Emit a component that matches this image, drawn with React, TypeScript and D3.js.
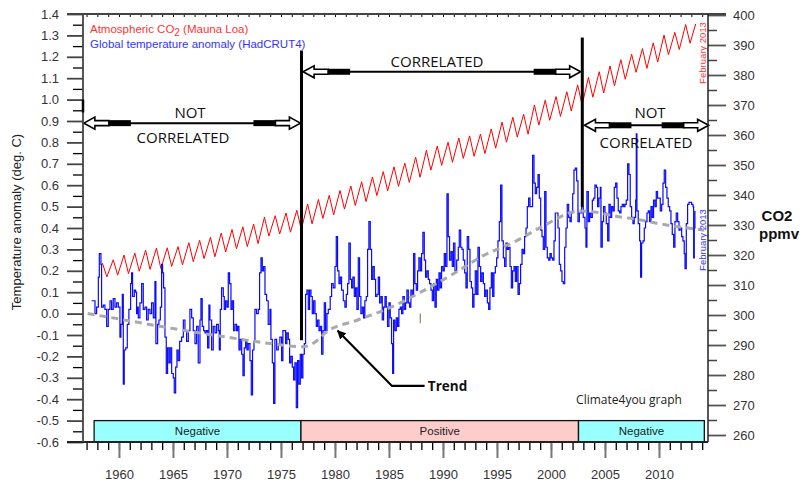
import { useEffect, useRef } from "react";
import * as d3 from "d3";

const W = 803;
const H = 486;

const TEMP_TICKS = [-0.6, -0.5, -0.4, -0.3, -0.2, -0.1, 0.0, 0.1, 0.2, 0.3, 0.4, 0.5, 0.6, 0.7, 0.8, 0.9, 1.0, 1.1, 1.2, 1.3, 1.4];
const CO2_TICKS = [260, 270, 280, 290, 300, 310, 320, 330, 340, 350, 360, 370, 380, 390, 400];
const YEAR_LABELS = [1960, 1965, 1970, 1975, 1980, 1985, 1990, 1995, 2000, 2005, 2010];

// Mauna Loa CO2, seasonal maximum and minimum of each year (ppmv)
const CO2_YEARS = [
  1958, 1959, 1960, 1961, 1962, 1963, 1964, 1965, 1966, 1967, 1968, 1969, 1970, 1971, 1972, 1973, 1974, 1975, 1976,
  1977, 1978, 1979, 1980, 1981, 1982, 1983, 1984, 1985, 1986, 1987, 1988, 1989, 1990, 1991, 1992, 1993, 1994, 1995,
  1996, 1997, 1998, 1999, 2000, 2001, 2002, 2003, 2004, 2005, 2006, 2007, 2008, 2009, 2010, 2011, 2012,
];
const CO2_PEAK = [
  317.3, 318.4, 320.0, 320.6, 321.6, 322.3, 322.4, 322.8, 324.1, 324.9, 325.9, 327.3, 328.5, 329.4, 330.3, 332.6, 333.1,
  334.0, 334.9, 337.0, 338.5, 339.9, 341.5, 343.0, 344.4, 346.0, 347.8, 349.4, 350.6, 352.6, 354.9, 356.3, 357.6, 359.0,
  359.7, 360.3, 362.0, 364.3, 365.9, 366.9, 370.0, 371.6, 372.8, 374.4, 376.7, 379.2, 381.1, 383.0, 385.1, 386.9, 388.8,
  390.7, 393.3, 394.2, 396.8,
];
const CO2_TROUGH = [
  312.7, 313.3, 313.8, 314.6, 315.2, 315.5, 316.2, 316.7, 317.8, 318.8, 319.4, 321.0, 322.1, 322.8, 323.8, 326.3, 327.0,
  327.6, 328.5, 330.4, 332.2, 333.4, 335.3, 336.5, 337.8, 339.8, 341.4, 342.9, 344.2, 345.9, 348.3, 349.9, 350.9, 352.2,
  352.9, 353.8, 355.6, 357.6, 359.3, 360.3, 363.3, 364.9, 366.2, 368.0, 370.0, 372.6, 374.0, 376.4, 378.6, 380.9, 382.2,
  384.3, 386.8, 388.5, 390.6,
];
const CO2_LAST: [number, number] = [2013.4, 397.0];

// HadCRUT4 global temperature anomaly [year, deg C]
const TEMP: [number, number][] = [
  [1957.47,0.06],[1957.62,0.06],[1957.78,0.00],[1957.93,0.03],[1958.09,0.17],[1958.18,0.28],[1958.33,0.23],[1958.39,0.03],
  [1958.55,0.04],[1958.70,0.02],[1958.86,-0.06],[1959.01,0.02],[1959.17,0.06],[1959.32,0.02],[1959.47,0.07],[1959.63,0.03],
  [1959.78,0.05],[1959.94,0.03],[1960.09,-0.11],[1960.18,-0.05],[1960.31,0.09],[1960.40,-0.33],[1960.49,-0.17],[1960.62,-0.16],
  [1960.77,-0.05],[1960.92,0.02],[1961.08,0.14],[1961.17,0.19],[1961.26,0.08],[1961.42,0.11],[1961.54,0.10],[1961.63,0.00],
  [1961.73,0.03],[1961.79,-0.02],[1961.94,0.05],[1962.10,0.14],[1962.25,0.02],[1962.41,0.03],[1962.56,-0.03],[1962.71,0.02],
  [1962.87,0.00],[1963.02,0.05],[1963.18,-0.02],[1963.33,0.15],[1963.42,-0.14],[1963.58,-0.05],[1963.70,-0.03],[1963.83,0.03],
  [1963.95,0.23],[1964.04,0.19],[1964.13,0.12],[1964.26,-0.11],[1964.38,-0.28],[1964.50,-0.16],[1964.63,-0.23],[1964.75,-0.16],
  [1964.88,-0.28],[1965.03,-0.30],[1965.12,-0.37],[1965.25,-0.25],[1965.37,-0.17],[1965.49,-0.22],[1965.62,-0.13],[1965.80,-0.11],
  [1965.96,-0.03],[1966.11,-0.08],[1966.26,-0.13],[1966.42,-0.08],[1966.57,0.02],[1966.73,-0.02],[1966.88,-0.08],[1967.04,-0.14],
  [1967.19,-0.06],[1967.34,-0.23],[1967.50,-0.03],[1967.59,0.07],[1967.71,-0.06],[1967.84,-0.08],[1967.96,-0.09],[1968.09,-0.08],
  [1968.21,-0.16],[1968.33,0.04],[1968.42,-0.03],[1968.58,-0.17],[1968.73,-0.06],[1968.89,-0.09],[1969.04,-0.05],[1969.20,-0.08],
  [1969.29,-0.17],[1969.38,0.02],[1969.50,0.12],[1969.66,0.08],[1969.75,0.02],[1969.87,0.06],[1970.00,0.03],[1970.12,0.19],
  [1970.24,0.14],[1970.37,0.02],[1970.49,0.06],[1970.61,-0.08],[1970.74,-0.05],[1970.89,-0.08],[1970.99,-0.06],[1971.11,-0.17],
  [1971.23,-0.12],[1971.36,-0.19],[1971.48,-0.29],[1971.60,-0.16],[1971.73,-0.13],[1971.85,-0.17],[1971.97,-0.14],[1972.13,-0.22],
  [1972.25,-0.38],[1972.37,-0.17],[1972.50,-0.13],[1972.59,0.02],[1972.74,0.00],[1972.90,0.02],[1973.02,0.19],[1973.15,0.26],
  [1973.27,0.20],[1973.39,0.22],[1973.52,0.09],[1973.67,0.06],[1973.82,-0.05],[1973.98,0.02],[1974.07,-0.12],[1974.20,-0.23],
  [1974.32,-0.42],[1974.44,-0.12],[1974.60,-0.17],[1974.75,-0.14],[1974.90,-0.11],[1975.06,-0.22],[1975.18,-0.08],[1975.31,-0.08],
  [1975.43,-0.14],[1975.55,-0.09],[1975.68,-0.12],[1975.80,-0.23],[1975.92,-0.20],[1976.05,-0.25],[1976.17,-0.31],[1976.29,-0.23],
  [1976.42,-0.44],[1976.54,-0.22],[1976.66,-0.33],[1976.79,-0.19],[1976.91,-0.30],[1977.03,-0.19],[1977.16,-0.14],[1977.28,0.09],
  [1977.40,0.11],[1977.53,0.02],[1977.65,0.11],[1977.78,0.08],[1977.90,0.00],[1978.02,0.06],[1978.15,0.00],[1978.27,-0.06],
  [1978.39,-0.03],[1978.52,-0.08],[1978.64,-0.06],[1978.76,-0.19],[1978.89,-0.08],[1979.01,0.05],[1979.13,-0.08],[1979.26,0.00],
  [1979.38,0.02],[1979.56,0.08],[1979.69,0.14],[1979.84,0.12],[1980.00,0.22],[1980.12,0.36],[1980.24,0.20],[1980.37,0.14],
  [1980.49,0.17],[1980.61,0.11],[1980.77,0.06],[1980.92,0.03],[1981.05,0.09],[1981.17,0.14],[1981.29,0.33],[1981.42,0.16],
  [1981.54,0.12],[1981.66,0.17],[1981.79,0.08],[1981.91,0.12],[1982.03,0.02],[1982.16,0.26],[1982.28,0.08],[1982.40,0.00],
  [1982.53,0.03],[1982.65,-0.02],[1982.77,0.06],[1982.90,0.08],[1983.02,0.30],[1983.14,0.43],[1983.27,0.30],[1983.39,0.16],
  [1983.51,0.22],[1983.64,0.16],[1983.76,0.08],[1983.89,0.09],[1984.01,0.17],[1984.13,0.05],[1984.26,0.08],[1984.38,-0.03],
  [1984.50,0.03],[1984.63,0.08],[1984.75,0.03],[1984.87,-0.06],[1985.00,0.05],[1985.12,-0.02],[1985.24,-0.14],[1985.34,-0.28],
  [1985.43,-0.03],[1985.55,-0.08],[1985.68,-0.02],[1985.80,-0.06],[1985.92,0.02],[1986.05,0.03],[1986.17,0.00],[1986.29,0.08],
  [1986.42,0.02],[1986.54,0.05],[1986.66,0.11],[1986.79,0.05],[1986.91,0.03],[1987.03,0.11],[1987.16,0.08],[1987.28,0.28],
  [1987.40,0.14],[1987.53,0.11],[1987.65,0.20],[1987.77,0.26],[1987.90,0.20],[1988.02,0.28],[1988.14,0.38],[1988.27,0.25],
  [1988.39,0.17],[1988.51,0.20],[1988.64,0.16],[1988.76,0.14],[1988.89,0.11],[1989.01,0.06],[1989.13,0.14],[1989.26,0.03],
  [1989.38,0.16],[1989.50,0.11],[1989.63,0.19],[1989.75,0.12],[1989.87,0.22],[1990.00,0.20],[1990.12,0.28],[1990.24,0.22],
  [1990.37,0.56],[1990.49,0.36],[1990.61,0.25],[1990.74,0.29],[1990.86,0.22],[1990.98,0.33],[1991.11,0.20],[1991.27,0.25],
  [1991.42,0.31],[1991.51,0.39],[1991.64,0.31],[1991.76,0.30],[1991.88,0.25],[1992.01,0.19],[1992.13,0.12],[1992.25,0.36],
  [1992.38,0.30],[1992.50,0.15],[1992.63,0.12],[1992.75,0.03],[1992.87,0.09],[1992.99,0.20],[1993.12,0.09],[1993.24,0.31],
  [1993.37,0.22],[1993.49,0.15],[1993.61,0.19],[1993.74,0.14],[1993.86,0.08],[1993.98,0.11],[1994.11,0.05],[1994.23,0.02],
  [1994.35,0.12],[1994.48,0.19],[1994.60,0.08],[1994.72,0.19],[1994.85,0.22],[1994.97,0.26],[1995.09,0.34],[1995.22,0.43],
  [1995.34,0.60],[1995.46,0.34],[1995.59,0.26],[1995.71,0.22],[1995.84,0.33],[1995.96,0.30],[1996.08,0.31],[1996.21,0.22],
  [1996.33,0.12],[1996.45,0.20],[1996.58,0.22],[1996.70,0.15],[1996.82,0.22],[1996.95,0.09],[1997.07,0.14],[1997.19,0.23],
  [1997.32,0.30],[1997.44,0.28],[1997.56,0.36],[1997.69,0.40],[1997.81,0.50],[1997.93,0.54],[1998.06,0.50],[1998.18,0.50],
  [1998.30,0.74],[1998.43,0.61],[1998.55,0.56],[1998.67,0.59],[1998.80,0.65],[1998.92,0.54],[1999.05,0.39],[1999.17,0.36],
  [1999.29,0.30],[1999.42,0.57],[1999.54,0.31],[1999.66,0.26],[1999.79,0.25],[1999.91,0.28],[2000.03,0.26],[2000.16,0.25],
  [2000.28,0.34],[2000.40,0.47],[2000.53,0.47],[2000.65,0.40],[2000.77,0.23],[2000.90,0.20],[2001.02,0.15],[2001.14,0.14],
  [2001.27,0.31],[2001.39,0.40],[2001.51,0.51],[2001.64,0.45],[2001.76,0.43],[2001.88,0.47],[2002.01,0.56],[2002.13,0.67],
  [2002.25,0.68],[2002.38,0.62],[2002.50,0.43],[2002.63,0.47],[2002.84,0.50],[2002.99,0.45],[2003.15,0.40],[2003.24,0.31],
  [2003.33,0.57],[2003.46,0.43],[2003.58,0.47],[2003.70,0.45],[2003.83,0.53],[2003.95,0.54],[2004.07,0.60],[2004.20,0.59],
  [2004.32,0.50],[2004.44,0.54],[2004.57,0.59],[2004.63,0.31],[2004.75,0.43],[2004.87,0.50],[2005.00,0.47],[2005.12,0.42],
  [2005.25,0.34],[2005.37,0.51],[2005.49,0.45],[2005.62,0.50],[2005.74,0.48],[2005.86,0.59],[2005.99,0.61],[2006.11,0.54],
  [2006.23,0.48],[2006.36,0.47],[2006.48,0.50],[2006.60,0.51],[2006.73,0.50],[2006.85,0.51],[2006.97,0.53],[2007.10,0.70],
  [2007.22,0.65],[2007.34,0.50],[2007.47,0.45],[2007.59,0.42],[2007.71,0.45],[2007.84,0.53],[2007.90,0.84],[2007.96,0.48],
  [2008.08,0.42],[2008.21,0.34],[2008.30,0.17],[2008.39,0.33],[2008.52,0.34],[2008.64,0.40],[2008.76,0.43],[2008.89,0.47],
  [2009.01,0.48],[2009.13,0.43],[2009.26,0.50],[2009.38,0.45],[2009.50,0.53],[2009.63,0.50],[2009.75,0.57],[2009.87,0.54],
  [2010.00,0.54],[2010.12,0.48],[2010.25,0.51],[2010.37,0.61],[2010.49,0.67],[2010.62,0.59],[2010.74,0.54],[2010.86,0.50],
  [2010.99,0.48],[2011.11,0.42],[2011.23,0.37],[2011.36,0.31],[2011.48,0.43],[2011.60,0.47],[2011.73,0.43],[2011.85,0.39],
  [2011.97,0.40],[2012.10,0.36],[2012.22,0.34],[2012.34,0.28],[2012.41,0.21],[2012.53,0.42],[2012.65,0.51],[2012.78,0.52],
  [2012.90,0.52],[2013.02,0.51],[2013.15,0.50],[2013.21,0.26],[2013.27,0.40],[2013.33,0.48],
];

// smoothed temperature trend [year, deg C]
const TREND: [number, number][] = [
  [1957.1, 0.0], [1960, -0.025], [1965, -0.07], [1970, -0.11], [1974, -0.14], [1977, -0.155], [1978.5, -0.12],
  [1979.1, -0.09], [1982.1, -0.03], [1985.2, 0.03], [1988.3, 0.11], [1991.1, 0.19], [1993.7, 0.27], [1996.8, 0.34],
  [1999.3, 0.41], [2002.7, 0.48], [2004, 0.475], [2006, 0.455], [2008, 0.44], [2010, 0.42], [2014.2, 0.39],
];

// correlation periods [label, from, to]
const PERIODS: [string, number, number][] = [
  ["Negative", 1957.7, 1976.85],
  ["Positive", 1976.85, 2002.55],
  ["Negative", 2002.55, 2014.2],
];
const PERIOD_FILL: Record<string, string> = { Negative: "#99ffff", Positive: "#ffcccc" };

// vertical dividers [year, from, to] in deg C
const DIVIDERS: [number, number, number][] = [[1976.9, -0.125, 1.23], [2002.9, 0.5, 1.29]];
// double arrows [from, to, level]
const ARROWS: [number, number, number][] = [[1956.75, 1976.8, 0.89], [1977.05, 2002.75, 1.13], [2003.1, 2014.6, 0.88]];

const ARIAL = "'Liberation Sans', Arial, sans-serif";
const SOFT = "'Open Sans', 'DejaVu Sans', sans-serif";

export default function App() {
  const svgRef = useRef<SVGSVGElement>(null);

  useEffect(() => {
    const svg = d3.select(svgRef.current);
    svg.selectAll("*").remove();

    const x = d3.scaleLinear().domain([1956.67, 2014.54]).range([83, 708]);
    const yT = d3.scaleLinear().domain([-0.6, 1.4]).range([442, 14]);
    const yC = d3.scaleLinear().domain([257.67, 400.33]).range([442, 14]);

    svg.append("rect").attr("width", W).attr("height", H).attr("fill", "#fff");
    const g = svg.append("g");

    // period bars
    PERIODS.forEach(([lab, a, b]) => {
      g.append("rect")
        .attr("x", x(a)).attr("y", yT(-0.5))
        .attr("width", x(b) - x(a)).attr("height", yT(-0.6) - yT(-0.5))
        .attr("fill", PERIOD_FILL[lab]).attr("stroke", "#111").attr("stroke-width", 1.3);
      g.append("text")
        .attr("x", (x(a) + x(b)) / 2).attr("y", yT(-0.55) + 4)
        .attr("text-anchor", "middle").attr("font-family", ARIAL).attr("font-size", 11.5)
        .attr("fill", "#222").text(lab);
    });

    // CO2
    const co2: [number, number][] = [];
    CO2_YEARS.forEach((yr, i) => {
      co2.push([yr + 0.47, CO2_PEAK[i]]);
      co2.push([yr + 0.88, CO2_TROUGH[i]]);
    });
    co2.push(CO2_LAST);
    g.append("path").datum(co2)
      .attr("fill", "none").attr("stroke", "#ff0000").attr("stroke-width", 1)
      .attr("d", d3.line<[number, number]>().x(d => x(d[0])).y(d => yC(d[1])));

    // temperature
    g.append("path").datum(TEMP)
      .attr("fill", "none").attr("stroke", "#0a0aff").attr("stroke-width", 1.2)
      .attr("d", d3.line<[number, number]>().x(d => x(d[0])).y(d => yT(d[1])).curve(d3.curveStepAfter));

    // trend
    g.append("path").datum(TREND)
      .attr("fill", "none").attr("stroke", "#aaaaaa").attr("stroke-width", 3)
      .attr("stroke-dasharray", "7,5")
      .attr("d", d3.line<[number, number]>().x(d => x(d[0])).y(d => yT(d[1])).curve(d3.curveMonotoneX));

    // stray brown mark
    g.append("line")
      .attr("x1", x(1987.9)).attr("x2", x(1987.9)).attr("y1", yT(0.0)).attr("y2", yT(-0.045))
      .attr("stroke", "#b07a50").attr("stroke-width", 1.2);

    // dividers
    DIVIDERS.forEach(([yr, lo, hi]) => {
      g.append("line")
        .attr("x1", x(yr)).attr("x2", x(yr)).attr("y1", yT(lo)).attr("y2", yT(hi))
        .attr("stroke", "#000").attr("stroke-width", 3);
    });

    // double arrows
    const head = (tip: number, yy: number, dir: number) => {
      const p = d3.path();
      p.moveTo(tip, yy);
      p.lineTo(tip + dir * 11, yy - 6);
      p.lineTo(tip + dir * 11, yy - 2.5);
      p.lineTo(tip + dir * 25, yy - 2.5);
      p.lineTo(tip + dir * 25, yy + 2.5);
      p.lineTo(tip + dir * 11, yy + 2.5);
      p.lineTo(tip + dir * 11, yy + 6);
      p.closePath();
      g.append("path").attr("d", p.toString())
        .attr("fill", "#fff").attr("stroke", "#000").attr("stroke-width", 1.6);
      g.append("rect")
        .attr("x", dir > 0 ? tip + 25 : tip - 47).attr("y", yy - 3)
        .attr("width", 22).attr("height", 6).attr("fill", "#000");
    };
    ARROWS.forEach(([a, b, lv]) => {
      const yy = yT(lv);
      g.append("line").attr("x1", x(a) + 45).attr("x2", x(b) - 45)
        .attr("y1", yy).attr("y2", yy).attr("stroke", "#000").attr("stroke-width", 2);
      head(x(a), yy, 1);
      head(x(b), yy, -1);
    });

    const label = (tx: number, ty: number, s: string, size = 15) =>
      g.append("text").attr("x", tx).attr("y", ty).attr("text-anchor", "middle")
        .attr("font-family", SOFT).attr("font-size", size).attr("fill", "#111").text(s);
    label(190, 118, "NOT");
    label(183, 143, "CORRELATED");
    label(437, 67, "CORRELATED");
    label(650, 118, "NOT");
    label(646, 148, "CORRELATED");

    // Trend pointer
    svg.append("defs").append("marker")
      .attr("id", "tip").attr("viewBox", "0 0 10 10").attr("refX", 9).attr("refY", 5)
      .attr("markerWidth", 9).attr("markerHeight", 9).attr("markerUnits", "userSpaceOnUse").attr("orient", "auto")
      .append("path").attr("d", "M0,0L10,5L0,10z").attr("fill", "#000");
    g.append("path")
      .attr("d", `M${x(1988.3)},${yT(-0.338)}L${x(1985.28)},${yT(-0.338)}L${x(1980.25)},${yT(-0.08)}`)
      .attr("fill", "none").attr("stroke", "#000").attr("stroke-width", 2.2).attr("marker-end", "url(#tip)");
    g.append("text").attr("x", x(1988.6)).attr("y", yT(-0.338) + 5)
      .attr("font-family", SOFT).attr("font-weight", "bold").attr("font-size", 13.5).attr("fill", "#111").text("Trend");

    g.append("text").attr("x", 629).attr("y", 404).attr("text-anchor", "middle")
      .attr("font-family", SOFT).attr("font-size", 12).attr("fill", "#222").text("Climate4you graph");

    // legend
    const l1 = g.append("text").attr("x", 90).attr("y", 33)
      .attr("font-family", ARIAL).attr("font-size", 11.5).attr("fill", "#ff3333");
    l1.append("tspan").text("Atmospheric CO");
    l1.append("tspan").attr("dy", 3).attr("font-size", 10).text("2");
    l1.append("tspan").attr("dy", -3).text(" (Mauna Loa)");
    g.append("text").attr("x", 90).attr("y", 48)
      .attr("font-family", ARIAL).attr("font-size", 11.5).attr("fill", "#3333ff")
      .text("Global temperature anomaly (HadCRUT4)");

    g.append("text").attr("transform", `translate(706,53) rotate(-90)`).attr("text-anchor", "middle")
      .attr("font-family", ARIAL).attr("font-size", 9.5).attr("fill", "#ff3333").text("February 2013");
    g.append("text").attr("transform", `translate(706,240) rotate(-90)`).attr("text-anchor", "middle")
      .attr("font-family", ARIAL).attr("font-size", 9.5).attr("fill", "#3333ff").text("February 2013");

    // axis titles
    g.append("text").attr("transform", `translate(21,222) rotate(-90)`).attr("text-anchor", "middle")
      .attr("font-family", ARIAL).attr("font-size", 13).attr("fill", "#222").text("Temperature anomaly (deg. C)");
    g.append("text").attr("x", 777).attr("y", 221).attr("text-anchor", "middle")
      .attr("font-family", ARIAL).attr("font-weight", "bold").attr("font-size", 15).attr("fill", "#111").text("CO2");
    g.append("text").attr("x", 779).attr("y", 239).attr("text-anchor", "middle")
      .attr("font-family", ARIAL).attr("font-weight", "bold").attr("font-size", 15).attr("fill", "#111").text("ppmv");

    // axes
    const styleAx = (ax: d3.Selection<SVGGElement, unknown, null, undefined>, col: string, w: number) => {
      ax.select(".domain").remove();
      ax.selectAll("line").attr("stroke", col).attr("stroke-width", w);
      ax.selectAll("text").attr("fill", "#333").attr("font-family", ARIAL).attr("font-size", 13);
    };
    const minorT = d3.range(-0.55, 1.4, 0.1);
    const minorC = d3.range(265, 400, 10);
    const allYears = d3.range(1957, 2015);

    styleAx(g.append("g").attr("transform", `translate(${x.range()[0]},0)`)
      .call(d3.axisLeft(yT).tickValues(minorT).tickSize(10).tickFormat(() => "")), "#000", 1.3);
    styleAx(g.append("g").attr("transform", `translate(${x.range()[0]},0)`)
      .call(d3.axisLeft(yT).tickValues(TEMP_TICKS).tickSize(16).tickPadding(8).tickFormat(d => (+d).toFixed(1))), "#444", 1.8);

    styleAx(g.append("g").attr("transform", `translate(${x.range()[1]},0)`)
      .call(d3.axisRight(yC).tickValues(minorC).tickSize(9).tickFormat(() => "")), "#444", 1.5);
    styleAx(g.append("g").attr("transform", `translate(${x.range()[1]},0)`)
      .call(d3.axisRight(yC).tickValues(CO2_TICKS).tickSize(18).tickPadding(7).tickFormat(d => String(d))), "#555", 1.8);

    styleAx(g.append("g").attr("transform", `translate(0,${yT.range()[0]})`)
      .call(d3.axisBottom(x).tickValues(allYears).tickSize(8).tickFormat(() => "")), "#000", 1.3);
    styleAx(g.append("g").attr("transform", `translate(0,${yT.range()[0]})`)
      .call(d3.axisBottom(x).tickValues(YEAR_LABELS).tickSize(16).tickPadding(12).tickFormat(d => String(d))), "#777", 2);

    styleAx(g.append("g").attr("transform", `translate(0,${yT.range()[1]})`)
      .call(d3.axisBottom(x).tickValues(allYears).tickSize(3).tickFormat(() => "")), "#000", 1);

    // frame
    const [x0, x1] = x.range();
    const [yb, yt] = yT.range();
    g.append("line").attr("x1", x0 - 16).attr("x2", x1 + 18).attr("y1", yt).attr("y2", yt).attr("stroke", "#444").attr("stroke-width", 1.8);
    g.append("line").attr("x1", x0 - 16).attr("x2", x1).attr("y1", yb).attr("y2", yb).attr("stroke", "#222").attr("stroke-width", 1.8);
    g.append("line").attr("x1", x0).attr("x2", x0).attr("y1", yt).attr("y2", yb).attr("stroke", "#444").attr("stroke-width", 1.8);
    g.append("line").attr("x1", x1).attr("x2", x1).attr("y1", yt).attr("y2", yb).attr("stroke", "#222").attr("stroke-width", 1.5);
    g.append("line").attr("x1", x0).attr("x2", x0).attr("y1", yT(1.0)).attr("y2", yT(0.94)).attr("stroke", "#000").attr("stroke-width", 2.5);
  }, []);

  return (
    <svg ref={svgRef} width={W} height={H}
      style={{ position: "absolute", left: 0, top: 0, display: "block", background: "#fff" }} />
  );
}
